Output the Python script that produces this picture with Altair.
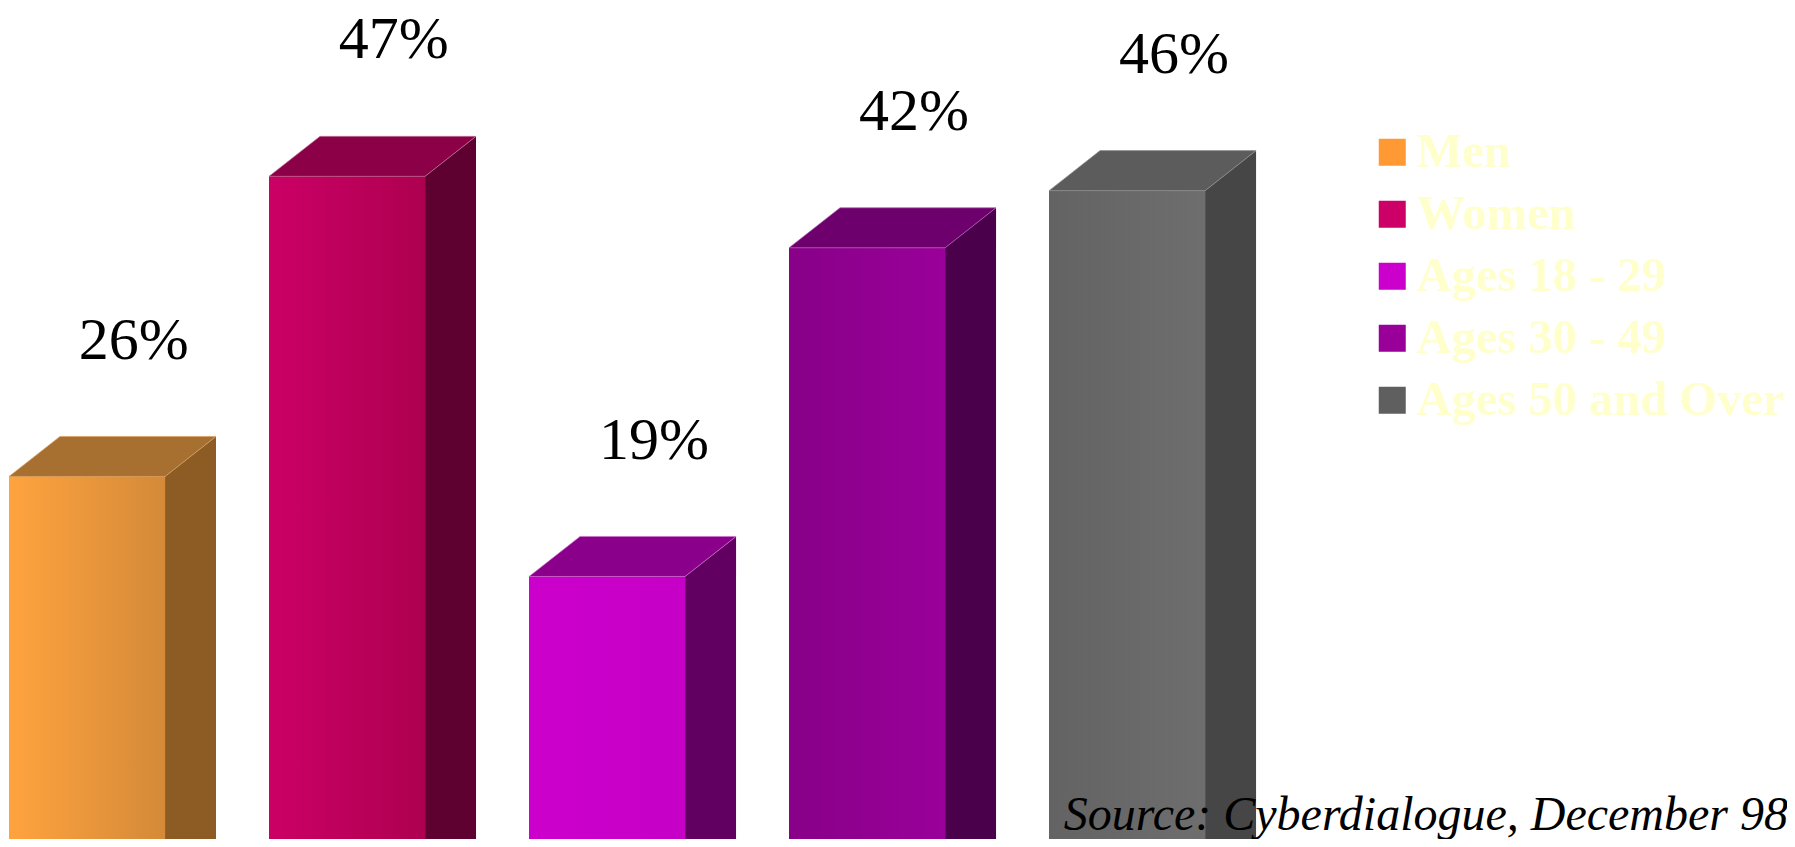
import altair as alt
import pandas as pd

# ---- data ----
CATEGORIES = ["Men", "Women", "Ages 18 - 29", "Ages 30 - 49", "Ages 50 and Over"]
VALUES = [26, 47, 19, 42, 46]
LABELS = ["26%", "47%", "19%", "42%", "46%"]
SOURCE = "Source: Cyberdialogue, December 98"

# ---- styles ----
LEGEND_COLORS = ["#FF9933", "#CC0066", "#CC00CC", "#990099", "#5F5F5F"]
FRONT_GRAD = [("#FFA33F", "#D48A38"), ("#CC0066", "#AE0050"), ("#CC00CC", "#C600C6"),
              ("#880088", "#9A009A"), ("#636363", "#6E6E6E")]
SIDE_COLORS = ["#8C5C24", "#5E0030", "#620062", "#4A004A", "#464646"]
TOP_COLORS = ["#A87030", "#8C0048", "#8A008A", "#6E006E", "#5C5C5C"]
EDGE_COLORS = ["#D8A060", "#C07898", "#D070D0", "#B060B0", "#909090"]
SERIF = "Liberation Serif, Times New Roman, serif"

W, H = 1779, 831
BAR_W = 0.6       # front width in category units
DX = 0.196        # depth in category units
DY = 2.8          # depth in value units
LABEL_DX = 0.18
LABEL_GAP = 5.45
X_DOMAIN = [-0.004, 6.838]
Y_DOMAIN = [0.63, 58.78]

xs = alt.Scale(domain=X_DOMAIN, nice=False, zero=False)
ys = alt.Scale(domain=Y_DOMAIN, nice=False, zero=False)

front = pd.DataFrame({
    "cat": CATEGORIES,
    "v": VALUES,
    "x0": [i for i in range(len(VALUES))],
    "x1": [i + BAR_W for i in range(len(VALUES))],
    "zero": [0] * len(VALUES),
    "label": LABELS,
    "lx": [i + BAR_W / 2 + LABEL_DX for i in range(len(VALUES))],
    "ly": [v + DY + LABEL_GAP for v in VALUES],
})

side_rows, top_rows = [], []
for i, (c, v) in enumerate(zip(CATEGORIES, VALUES)):
    x0, x1 = i, i + BAR_W
    side_rows.append(dict(cat=c, x=x1, y=v, y2=0, fill=SIDE_COLORS[i]))
    side_rows.append(dict(cat=c, x=x1 + DX, y=v + DY, y2=0, fill=SIDE_COLORS[i]))
    top_rows.append(dict(cat=c, x=x0, y=v, y2=v, fill=TOP_COLORS[i], edge=EDGE_COLORS[i]))
    top_rows.append(dict(cat=c, x=x0 + DX, y=v + DY, y2=v, fill=TOP_COLORS[i], edge=EDGE_COLORS[i]))
    top_rows.append(dict(cat=c, x=x1, y=v + DY, y2=v, fill=TOP_COLORS[i], edge=EDGE_COLORS[i]))
    top_rows.append(dict(cat=c, x=x1 + DX, y=v + DY, y2=v + DY, fill=TOP_COLORS[i], edge=EDGE_COLORS[i]))
side = pd.DataFrame(side_rows)
top = pd.DataFrame(top_rows)

legend = alt.Legend(
    orient="none", legendX=1360, legendY=120, title=None,
    symbolType="square", symbolSize=729, symbolStrokeWidth=0,
    labelFontSize=48.5, labelFont=SERIF, labelFontWeight="bold",
    labelColor="#FFFFCC", rowPadding=13, labelOffset=0, padding=0, labelLimit=0,
)

base_front = alt.Chart(front).mark_rect(clip=True).encode(
    x=alt.X("x0:Q", scale=xs, axis=None),
    x2="x1:Q",
    y=alt.Y("v:Q", scale=ys, axis=None),
    y2="zero:Q",
    color=alt.Color("cat:N", sort=CATEGORIES,
                    scale=alt.Scale(domain=CATEGORIES, range=LEGEND_COLORS),
                    legend=legend),
)

grad_layers = []
for i, c in enumerate(CATEGORIES):
    g = alt.LinearGradient(
        gradient="linear", x1=0, x2=1, y1=0, y2=0,
        stops=[alt.GradientStop(color=FRONT_GRAD[i][0], offset=0),
               alt.GradientStop(color=FRONT_GRAD[i][1], offset=1)],
    )
    grad_layers.append(
        alt.Chart(front).transform_filter(alt.datum.cat == c).mark_rect(clip=True, fill=g).encode(
            x=alt.X("x0:Q", scale=xs, axis=None), x2="x1:Q",
            y=alt.Y("v:Q", scale=ys, axis=None), y2="zero:Q",
        )
    )

sides = alt.Chart(side).mark_area(clip=True, interpolate="linear").encode(
    x=alt.X("x:Q", scale=xs, axis=None),
    y=alt.Y("y:Q", scale=ys, axis=None),
    y2="y2:Q",
    fill=alt.Fill("fill:N", scale=None),
    detail="cat:N",
)

tops = alt.Chart(top).mark_area(clip=True, interpolate="linear", strokeWidth=1, strokeOpacity=0.7).encode(
    x=alt.X("x:Q", scale=xs, axis=None),
    y=alt.Y("y:Q", scale=ys, axis=None),
    y2="y2:Q",
    fill=alt.Fill("fill:N", scale=None),
    stroke=alt.Stroke("edge:N", scale=None),
    detail="cat:N",
)

labels = alt.Chart(front).mark_text(
    font=SERIF, fontSize=60, color="black", baseline="alphabetic", align="center"
).encode(
    x=alt.X("lx:Q", scale=xs, axis=None),
    y=alt.Y("ly:Q", scale=ys, axis=None),
    text="label:N",
)

source = alt.Chart(pd.DataFrame({"t": [SOURCE]})).mark_text(
    font=SERIF, fontSize=48, fontStyle="italic", color="black",
    align="right", baseline="alphabetic",
).encode(text="t:N", x=alt.value(1780), y=alt.value(822))

chart = alt.layer(base_front, *grad_layers, sides, tops, labels, source).properties(
    width=W, height=H, padding=0, background="white",
    autosize=alt.AutoSizeParams(type="none"),
).configure_view(stroke=None)

chart.save("out.html", embed_options={"renderer": "svg", "actions": False})
